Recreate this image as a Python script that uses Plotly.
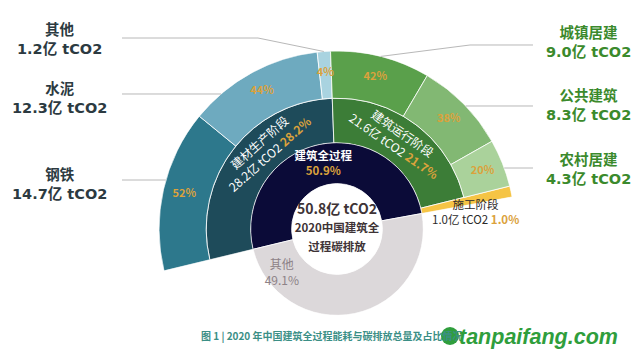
import math
import plotly.graph_objects as go

W, H = 640, 358
OFF = 8   # page body margin offset compensation (px)

# ---------------- data ----------------
total_emis = 50.8                      # 亿 tCO2, 建筑全过程
center_title = ["2020中国建筑全", "过程碳排放"]
ring1_labels = ["建筑全过程", "其他"]
ring1_pct = [50.9, 49.1]
stage_labels = ["建材生产阶段", "建筑运行阶段", "施工阶段"]
stage_emis = [28.2, 21.6, 1.0]         # 亿 tCO2
stage_pct = [28.2, 21.7, 1.0]          # %
mat_labels = ["钢铁", "水泥", "其他"]
mat_emis = [14.7, 12.3, 1.2]
mat_pct = [52, 44, 4]
op_labels = ["城镇居建", "公共建筑", "农村居建"]
op_emis = [9.0, 8.3, 4.3]
op_pct = [42, 38, 20]
caption = "图 1 | 2020 年中国建筑全过程能耗与碳排放总量及占比情况"
watermark = "tanpaifang.com"

# ---------------- styles ----------------
C_NAVY, C_GRAY = "#0b0b38", "#dcd8da"
C_STAGE = ["#1e4b5a", "#3c7d37", "#f5c445"]
C_MAT = ["#2d788c", "#6eaabf", "#a9d3e0"]
C_OP = ["#5aa04b", "#82b873", "#aad29b"]
GOLD = "#dba23c"
FONT = "Noto Sans CJK SC, Noto Sans, sans-serif"
LFONT = "DejaVu Sans, Noto Sans CJK SC, sans-serif"

# ---------------- geometry (reference pixel frame) ----------------
CX, CY, R = 337, 229, 178          # centre and outer radius (px)
START = 193.6                      # math angle where the first slice starts
RING = [0.255, 0.485, 0.735, 1.0]  # ring edges as fraction of R
DEG = 360.0 / sum(ring1_pct)
ROT = ((START + 180) % 360) - 180


def fx(x):
    return (x - OFF) / W


def fy(y):
    return 1 - (y - OFF) / H


def cum_mid(spans, offset=0.0):
    mids, starts, acc = [], [], offset
    for s in spans:
        starts.append(acc)
        mids.append(acc + s / 2)
        acc += s
    return mids, starts


def polar_px(rf, ang):
    a = math.radians(ang)
    return CX + rf * R * math.cos(a), CY - rf * R * math.sin(a)


ring1_deg = [p * DEG for p in ring1_pct]
ring1_mid, ring1_start = cum_mid(ring1_deg)
stage_deg = [p * DEG for p in stage_pct]
stage_mid, stage_start = cum_mid(stage_deg)
mat_deg = [stage_deg[0] * v / sum(mat_emis) for v in mat_emis]
mat_mid, _ = cum_mid(mat_deg, stage_start[0])
op_deg = [stage_deg[1] * v / sum(op_emis) for v in op_emis]
op_mid, _ = cum_mid(op_deg, stage_start[1])


def math_angle(theta):
    return START - theta


def sector_bbox(s0, s1):
    arc = s1 - s0
    a0 = s0 % 360
    a1 = a0 + arc
    c = lambda d: math.cos(math.radians(d))
    s = lambda d: math.sin(math.radians(d))
    ax0, ay0, ax1, ay1 = c(a0), s(a0), c(a1), s(a1)
    if (a0 <= 90 and a1 >= 90) or (a0 > 90 and a1 >= 450):
        y1 = 1
    elif ay0 <= 0 and ay1 <= 0:
        y1 = 0
    else:
        y1 = max(ay0, ay1)
    if (a0 <= 180 and a1 >= 180) or (a0 > 180 and a1 >= 540):
        x0 = -1
    elif ax0 >= 0 and ax1 >= 0:
        x0 = 0
    else:
        x0 = min(ax0, ax1)
    if (a0 <= 270 and a1 >= 270) or (a0 > 270 and a1 >= 630):
        y0 = -1
    elif ay0 >= 0 and ay1 >= 0:
        y0 = 0
    else:
        y0 = min(ay0, ay1)
    if a1 >= 360:
        x1 = 1
    elif ax0 <= 0 and ax1 <= 0:
        x1 = 0
    else:
        x1 = max(ax0, ax1)
    return x0, y0, x1, y1


sec = [START - sum(stage_deg), START]
bx0, by0, bx1, by1 = sector_bbox(*sec)
domA = dict(x=[fx(CX + R * bx0), fx(CX + R * bx1)],
            y=[fy(CY - R * by0), fy(CY - R * by1)])
RB = RING[1] * R
domB = dict(x=[fx(CX - RB), fx(CX + RB)], y=[fy(CY + RB), fy(CY - RB)])

fig = go.Figure()
SEP = dict(color="rgba(255,255,255,0.8)", width=1)

# ring 1 (inner): 建筑全过程 / 其他
fig.add_trace(go.Barpolar(
    subplot="polar2", r=[RING[1] - RING[0]] * 2, base=[RING[0]] * 2,
    theta=ring1_mid, width=ring1_deg, marker_color=[C_NAVY, C_GRAY],
    marker_line=SEP, hoverinfo="skip"))

# ring 2: stages (施工 spans rings 2 and 3)
fig.add_trace(go.Barpolar(
    subplot="polar", r=[RING[2] - RING[1], RING[2] - RING[1], RING[3] - RING[1]],
    base=[RING[1]] * 3, theta=stage_mid, width=stage_deg, marker_color=C_STAGE,
    marker_line=SEP, hoverinfo="skip"))

# ring 3: sub-categories
fig.add_trace(go.Barpolar(
    subplot="polar", r=[RING[3] - RING[2]] * 6, base=[RING[2]] * 6,
    theta=mat_mid + op_mid, width=mat_deg + op_deg, marker_color=C_MAT + C_OP,
    marker_line=SEP, hoverinfo="skip"))

# outer ring percentages
fig.add_trace(go.Scatterpolar(
    subplot="polar", mode="text", r=[0.88] * 6, theta=mat_mid + op_mid,
    text=[f"<b>{p}%</b>" for p in mat_pct + op_pct],
    textfont=dict(color=GOLD, size=11, family=FONT), hoverinfo="skip", cliponaxis=False))

# inner ring texts
other_theta = ring1_start[1] + 0.855 * ring1_deg[1]
fig.add_trace(go.Scatterpolar(
    subplot="polar2", mode="text", r=[0.37, 0.40], theta=[ring1_mid[0], other_theta],
    text=[f"<b>{ring1_labels[0]}</b><br><b><span style='color:{GOLD}'>{ring1_pct[0]}%</span></b>",
          f"{ring1_labels[1]}<br>{ring1_pct[1]}%"],
    textfont=dict(color=["white", "#8d8287"], size=[11.5, 12], family=FONT),
    hoverinfo="skip", cliponaxis=False))

# centre text
fig.add_trace(go.Scatterpolar(
    subplot="polar2", mode="text", r=[0], theta=[0],
    text=[f"<b>{total_emis}亿 tCO2</b><br>"
          f"<b><span style='font-size:11.5px'>{center_title[0]}</span></b><br>"
          f"<b><span style='font-size:11.5px'>{center_title[1]}</span></b>"],
    textfont=dict(color="#3e3336", size=14, family=FONT), hoverinfo="skip", cliponaxis=False))

axis_off = dict(visible=False, showgrid=False, showline=False, showticklabels=False, ticks="")
fig.update_layout(
    width=W, height=H, margin=dict(l=0, r=0, t=0, b=0),
    paper_bgcolor="white", plot_bgcolor="white", showlegend=False,
    polar=dict(domain=domA, sector=sec, hole=0, bgcolor="rgba(0,0,0,0)", barmode="overlay",
               radialaxis=dict(range=[0, 1], **axis_off),
               angularaxis=dict(rotation=ROT, direction="clockwise", **axis_off)),
    polar2=dict(domain=domB, hole=0, bgcolor="rgba(0,0,0,0)", barmode="overlay",
                radialaxis=dict(range=[0, RING[1]], **axis_off),
                angularaxis=dict(rotation=ROT, direction="clockwise", **axis_off)),
)


def note(x, y, text, font, **kw):
    d = dict(x=fx(x), y=fy(y), xref="paper", yref="paper", showarrow=False, text=text, font=font,
             xanchor="center", yanchor="middle", align="center")
    d.update(kw)
    return d


ann = []
# stage labels (tangential)
stage_label_frac = [0.61, 0.47]
for i in range(2):
    th = stage_start[i] + stage_label_frac[i] * stage_deg[i]
    a = math_angle(th)
    x, y = polar_px(0.61, a)
    ann.append(note(x, y,
                    f"{stage_labels[i]}<br>{stage_emis[i]}亿 tCO2 <b><span style='color:{GOLD}'>{stage_pct[i]}%</span></b>",
                    dict(color="white", size=12, family=FONT), textangle=90 - a))
# 施工 label
ann.append(note(475, 212,
                f"{stage_labels[2]}<br>{stage_emis[2]}亿 tCO2 <b><span style='color:{GOLD}'>{stage_pct[2]}%</span></b>",
                dict(color="#2b2b2b", size=11.5, family=FONT)))

# side labels
left_y = [184, 98.5, 39]      # 钢铁, 水泥, 其他
right_y = [42.5, 105, 169]    # 城镇, 公共, 农村
for lab, v, yy in zip(mat_labels, mat_emis, left_y):
    ann.append(note(59, yy, f"<b>{lab}<br>{v}亿 tCO2</b>",
                    dict(color="#2c3a41", size=14.5, family=LFONT)))
for lab, v, yy in zip(op_labels, op_emis, right_y):
    ann.append(note(588, yy, f"<b>{lab}<br>{v}亿 tCO2</b>",
                    dict(color="#3b8a2c", size=14.5, family=LFONT)))

# caption + watermark
ann.append(note(199, 335, f"<b>{caption}</b>", dict(color="#3b8f86", size=10, family=FONT),
                xanchor="left"))
ann.append(note(457, 337, f"<b><i>{watermark}</i></b>",
                dict(color="#2f9e3c", size=21.5, family="Liberation Sans, Arial, sans-serif"),
                xanchor="left"))
fig.update_layout(annotations=ann)

# leader lines


def circ_x(yy, side):
    d = CY - yy
    return CX + side * math.sqrt(max(R * R - d * d, 0))


def path(points):
    return "M " + " L ".join(f"{fx(x):.5f},{fy(y):.5f}" for x, y in points)


lines = [
    [(122, 38), (258, 38), polar_px(1.0, math_angle(mat_mid[2]))],
    [(122, 94), (circ_x(94, -1), 94)],
    [(122, 180), (circ_x(180, -1), 180)],
    [(533, 45), (470, 45), polar_px(1.0, math_angle(op_mid[0]))],
    [(533, 106), (circ_x(106, 1), 106)],
    [(533, 168), (circ_x(168, 1), 168)],
]
shapes = [dict(type="path", xref="paper", yref="paper", path=path(p),
               line=dict(color="#b8b8b8", width=1)) for p in lines]
# watermark logo
lx, ly, lr = 450, 336, 9
shapes.append(dict(type="circle", xref="paper", yref="paper",
                   x0=fx(lx - lr), x1=fx(lx + lr), y0=fy(ly + lr), y1=fy(ly - lr),
                   fillcolor="#2f9e3c", line=dict(color="#2f9e3c", width=0)))
fig.update_layout(shapes=shapes)

fig.write_html("out.html")
